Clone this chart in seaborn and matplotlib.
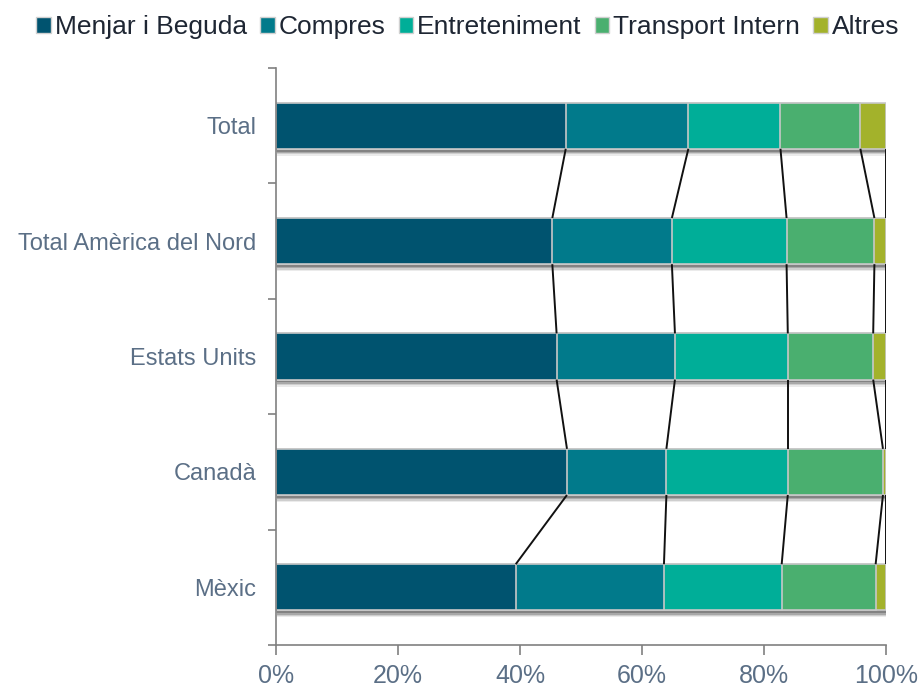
import numpy as np
import pandas as pd
import matplotlib
matplotlib.use("Agg")
import matplotlib.pyplot as plt
import matplotlib.patheffects as pe
from matplotlib.patches import Patch
import seaborn as sns

categories = ["Total", "Total Amèrica del Nord", "Estats Units", "Canadà", "Mèxic"]
series_names = ["Menjar i Beguda", "Compres", "Entreteniment", "Transport Intern", "Altres"]
menjar = [47.5, 45.3, 46.0, 47.7, 39.3]
compres = [20.1, 19.6, 19.4, 16.3, 24.3]
entreteniment = [15.1, 18.8, 18.5, 19.9, 19.3]
transport = [13.1, 14.4, 14.0, 15.6, 15.4]
altres = [4.2, 1.9, 2.1, 0.5, 1.7]
colors = ["#00536F", "#017A8B", "#00AE98", "#4AAF6F", "#A3B22B"]
xticks = [0, 20, 40, 60, 80, 100]

sns.set_theme(style="white")
plt.rcParams["font.family"] = ["Liberation Sans", "DejaVu Sans"]

series = [menjar, compres, entreteniment, transport, altres]
cum = np.cumsum(np.array(series), axis=0)  # shape (5 series, 5 cats)

fig = plt.figure(figsize=(9.23, 6.88), dpi=100)
ax = fig.add_axes([276 / 923, 1 - 645 / 688, 610 / 923, 577 / 688])

bar_h = 0.4
edge = "#C8C8C8"
for k in range(len(series) - 1, -1, -1):
    df = pd.DataFrame({"cat": categories, "val": cum[k]})
    n_before = len(ax.patches)
    sns.barplot(data=df, x="val", y="cat", order=categories, color=colors[k],
                orient="h", width=bar_h, edgecolor=edge, linewidth=1.2,
                saturation=1, errorbar=None, ax=ax)
    if k == len(series) - 1:
        for p in ax.patches[n_before:]:
            p.set_path_effects([
                pe.SimplePatchShadow(offset=(1.0, -5.0), shadow_rgbFace="#000000", alpha=0.08),
                pe.SimplePatchShadow(offset=(0.8, -4.0), shadow_rgbFace="#000000", alpha=0.12),
                pe.SimplePatchShadow(offset=(0.5, -3.0), shadow_rgbFace="#000000", alpha=0.18),
                pe.SimplePatchShadow(offset=(0.3, -2.0), shadow_rgbFace="#000000", alpha=0.22),
                pe.Normal()])

# connector lines between consecutive bars
for i in range(len(categories) - 1):
    for k in range(len(series)):
        ax.plot([cum[k, i], cum[k, i + 1]], [i + bar_h / 2, i + 1 - bar_h / 2],
                color="#111111", lw=1.4, zorder=1, solid_capstyle="butt")

ax.set_xlim(0, 100)
ax.set_ylim(len(categories) - 0.5, -0.5)
ax.set_xlabel("")
ax.set_ylabel("")

label_color = "#5B6F86"
axis_color = "#808080"
ax.set_xticks(xticks)
ax.set_xticklabels([f"{t}%" for t in xticks], fontsize=18, color=label_color)
ax.set_yticks(range(len(categories)))
ax.set_yticklabels(categories, fontsize=17, color=label_color)
ax.set_yticks(np.arange(-0.5, len(categories), 1.0), minor=True)
ax.tick_params(axis="y", which="major", length=0, pad=14)
ax.tick_params(axis="y", which="minor", length=6, width=1.2, color=axis_color, left=True)
ax.tick_params(axis="x", which="major", length=7, width=1.2, color=axis_color, bottom=True, pad=7)

for s in ["top", "right"]:
    ax.spines[s].set_visible(False)
for s in ["left", "bottom"]:
    ax.spines[s].set_visible(True)
    ax.spines[s].set_color(axis_color)
    ax.spines[s].set_linewidth(1.2)

handles = [Patch(facecolor=c, edgecolor="#D0D0D0", linewidth=1.0) for c in colors]
fig.legend(handles, series_names, loc="upper center", bbox_to_anchor=(0.507, 1.012),
           ncol=5, frameon=False, fontsize=19, handlelength=0.55, handleheight=0.55,
           handletextpad=0.15, columnspacing=0.5, labelcolor="#1E2633")

fig.savefig("out.png", dpi=100)
